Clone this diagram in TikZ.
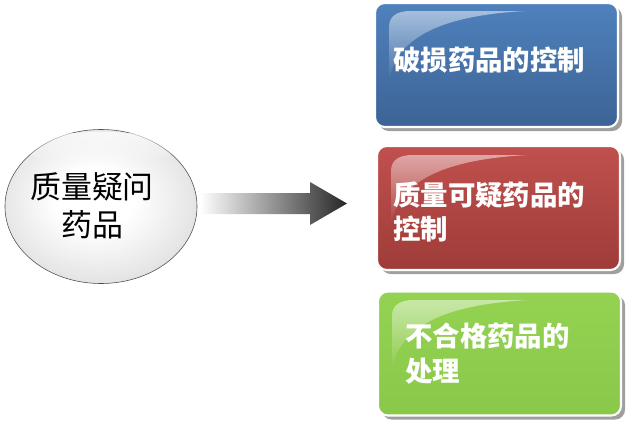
\documentclass[tikz,border=0pt]{standalone}
\usepackage{fontspec}
\newfontfamily\cjk{Noto Sans CJK SC}
\usetikzlibrary{shapes.geometric,shadows,fadings}

\definecolor{bluetop}{RGB}{79,129,189}
\definecolor{bluebot}{RGB}{60,99,149}
\definecolor{redtop}{RGB}{192,80,77}
\definecolor{redbot}{RGB}{158,60,57}
\definecolor{greentop}{RGB}{148,210,82}
\definecolor{greenbot}{RGB}{138,200,74}

\pgfdeclareradialshading{glassball}{\pgfpoint{-2bp}{3bp}}{%
  color(0bp)=(white); color(10bp)=(white); color(25bp)=(gray!20);
  color(38bp)=(gray!40); color(46bp)=(gray!60); color(50bp)=(gray!75)}

\tikzset{
  ctrlbox/.style={rectangle, rounded corners=7pt, draw=white, line width=1.5pt,
    minimum width=6.075cm, minimum height=3.1cm,
    drop shadow={shadow xshift=0.1cm, shadow yshift=-0.1cm, fill=gray!75, opacity=1}},
  gloss/.style={fill=white, fill opacity=0.5, path fading=south},
  boxtext/.style={anchor=west, inner sep=0pt, align=left, text=white,
    font=\cjk\bfseries\fontsize{19.5}{24.5}\selectfont},
  bubble/.style={ellipse, minimum width=4.8cm, minimum height=3.85cm,
    shading=glassball, draw=gray!60!black, line width=0.4pt}
}

\begin{document}
\begin{tikzpicture}[x=0.025cm, y=-0.025cm]
  \useasboundingbox (0,0) rectangle (640,422);

  % the doubtful drugs bubble
  \node[bubble] (doubtful) at (101,206.5) {};
  \fill[white, fill opacity=0.7, path fading=south] (101,148) ellipse (78 and 16);
  \node[align=center, inner sep=0pt, font=\cjk\fontsize{22}{27}\selectfont] (doubtfultext) at (92,206) {质量疑问\\药品};

  % arrow, fading in from the left
  \shade[left color=white, right color=black!85]
    (200,193) -- (310,193) -- (310,182) -- (347,203.5) -- (310,225) -- (310,214) -- (200,214) -- cycle;

  % box 1: damaged drugs
  \begin{scope}[shift={(375,3)}]
    \node[ctrlbox, top color=bluetop, bottom color=bluebot] (damaged) at (121.5,62) {};
    \fill[gloss] (14,78) -- (14,24) .. controls (14,13) and (22,8) .. (36,8) -- (150,8)
      .. controls (80,12) and (22,28) .. (14,78);
    \node[boxtext] (damagedtext) at (18,57) {破损药品的控制};
  \end{scope}

  % box 2: questionable drugs
  \begin{scope}[shift={(377,147)}]
    \node[ctrlbox, top color=redtop, bottom color=redbot] (questionable) at (121.5,61) {};
    \fill[gloss] (14,78) -- (14,24) .. controls (14,13) and (22,8) .. (36,8) -- (150,8)
      .. controls (80,12) and (22,28) .. (14,78);
    \node[boxtext] (questionabletext) at (16,65) {质量可疑药品的\\控制};
  \end{scope}

  % box 3: unqualified drugs
  \begin{scope}[shift={(378,292)}]
    \node[ctrlbox, top color=greentop, bottom color=greenbot] (unqualified) at (121.5,61.5) {};
    \fill[gloss] (14,78) -- (14,24) .. controls (14,13) and (22,8) .. (36,8) -- (150,8)
      .. controls (80,12) and (22,28) .. (14,78);
    \node[boxtext] (unqualifiedtext) at (27,61.5) {不合格药品的\\处理};
  \end{scope}
\end{tikzpicture}
\end{document}
